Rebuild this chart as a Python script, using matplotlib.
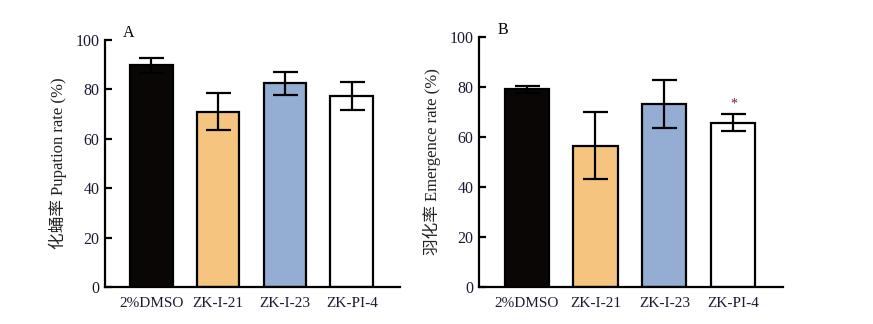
import matplotlib
matplotlib.use("Agg")
import matplotlib.pyplot as plt

categories = ["2%DMSO", "ZK-I-21", "ZK-I-23", "ZK-PI-4"]
pupation = [89.7, 71.0, 82.4, 77.3]
pupation_err = [3.1, 7.4, 4.7, 5.7]
emergence = [79.1, 56.6, 73.4, 65.8]
emergence_err = [1.5, 13.4, 9.6, 3.3]
colors = ["#0a0606", "#F5C47E", "#94AED3", "#FFFFFF"]
yticks = [0, 20, 40, 60, 80, 100]

fam = ["Liberation Serif", "Noto Sans CJK SC"]
plt.rcParams["font.family"] = fam
tick_color = "#1a1a33"

fig = plt.figure(figsize=(8.73, 3.24), dpi=100)
axA = fig.add_axes([105/873, 1-287/324, 295/873, 247/324])
axB = fig.add_axes([479/873, 1-287/324, 304/873, 250/324])

def draw(ax, vals, errs, ylabel, letter):
    x = list(range(len(categories)))
    ax.bar(x, vals, width=0.64, color=colors, edgecolor="black", linewidth=1.6, zorder=2)
    ax.errorbar(x, vals, yerr=errs, fmt="none", ecolor="black", elinewidth=1.6,
                capsize=9, capthick=1.6, zorder=3)
    ax.set_xlim(-0.69, 3.72)
    ax.set_ylim(0, 100)
    ax.set_yticks(yticks)
    ax.set_xticks(x)
    ax.set_xticklabels(categories)
    for s in ["top", "right"]:
        ax.spines[s].set_visible(False)
    for s in ["left", "bottom"]:
        ax.spines[s].set_linewidth(1.6)
    ax.tick_params(axis="y", direction="in", length=5, width=1.6, labelsize=11.5,
                   labelcolor=tick_color, pad=4)
    ax.tick_params(axis="x", length=0, labelsize=11, labelcolor=tick_color, pad=7)
    ax.set_ylabel(ylabel, fontsize=12, color="#222222", labelpad=6)
    ax.text(0.06, 1.03, letter, transform=ax.transAxes, fontsize=11.5, va="center",
            ha="left", color="black")

draw(axA, pupation, pupation_err, "化蛹率 Pupation rate (%)", "A")
draw(axB, emergence, emergence_err, "羽化率 Emergence rate (%)", "B")
axB.text(3, emergence[3] + emergence_err[3] + 1.5, "*", ha="center", va="bottom",
         fontsize=10, color="#7a1a3a")

fig.savefig("out.png", dpi=100)
